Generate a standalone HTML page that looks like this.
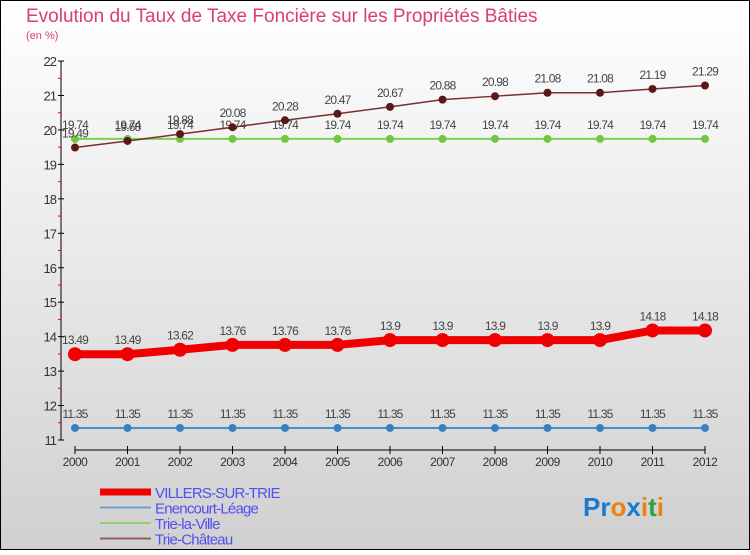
<!DOCTYPE html>
<html><head><meta charset="utf-8"><style>
body{margin:0}
svg text{font-family:"Liberation Sans",sans-serif}
</style></head><body>
<svg width="750" height="550" xmlns="http://www.w3.org/2000/svg">
<defs><linearGradient id="bg" x1="0" y1="0" x2="0" y2="1"><stop offset="0" stop-color="#ffffff"/><stop offset="1" stop-color="#d0d0d0"/></linearGradient></defs>
<rect x="0.5" y="0.5" width="749" height="549" fill="url(#bg)" stroke="#000"/>
<text x="26" y="22" font-size="19" fill="#d9406a">Evolution du Taux de Taxe Foncière sur les Propriétés Bâties</text>
<text x="26" y="39" font-size="11" fill="#d9406a">(en %)</text>
<g id="axes"></g>
<g id="series"></g>
<g id="legend"></g>
<text x="583" y="516" font-size="26" font-weight="bold"><tspan fill="#1a7ad0">Pr</tspan><tspan fill="#f08010">o</tspan><tspan fill="#1a7ad0">x</tspan><tspan fill="#f08010">i</tspan><tspan fill="#30a040">t</tspan><tspan fill="#f08010">i</tspan></text>
</svg>
<script>
const years=[2000,2001,2002,2003,2004,2005,2006,2007,2008,2009,2010,2011,2012];
const villers=[13.49,13.49,13.62,13.76,13.76,13.76,13.9,13.9,13.9,13.9,13.9,14.18,14.18];
const enencourt=[11.35,11.35,11.35,11.35,11.35,11.35,11.35,11.35,11.35,11.35,11.35,11.35,11.35];
const trieVille=[19.74,19.74,19.74,19.74,19.74,19.74,19.74,19.74,19.74,19.74,19.74,19.74,19.74];
const trieChateau=[19.49,19.68,19.88,20.08,20.28,20.47,20.67,20.88,20.98,21.08,21.08,21.19,21.29];
const yTicks=[11,12,13,14,15,16,17,18,19,20,21,22];
const NS="http://www.w3.org/2000/svg";
function X(i){return 75+i*52.5;}
function Y(v){return 440-(v-11)*34.45;}
function mk(t,a,p){const e=document.createElementNS(NS,t);for(const k in a)e.setAttribute(k,a[k]);p.appendChild(e);return e;}
const ax=document.getElementById('axes');
let e=mk('line',{x1:61,y1:61,x2:61,y2:440,stroke:'#000'},ax);

e=mk('line',{x1:75,y1:450,x2:705,y2:450,stroke:'#000'},ax);

yTicks.forEach(v=>{
 mk('line',{x1:58,x2:64,y1:Y(v),y2:Y(v),stroke:'#000'},ax);
 if(v<22)mk('line',{x1:58,x2:61,y1:Y(v+0.5),y2:Y(v+0.5),stroke:'#f00'},ax);
 const t=mk('text',{x:56,y:Y(v)+5,'text-anchor':'end','font-size':13,fill:'#333','letter-spacing':'-1'},ax);
 t.textContent=v;
 
});
years.forEach((y,i)=>{
 mk('line',{x1:X(i),x2:X(i),y1:446,y2:454,stroke:'#000'},ax);
 const t=mk('text',{x:X(i),y:466,'text-anchor':'middle','font-size':12,fill:'#333','letter-spacing':'-0.5'},ax);
 t.textContent=y;
 
});
const sg=document.getElementById('series');
function series(name,vals,color,w,r,dot){
 const g=mk('g',{},sg);
 
 mk('polyline',{points:vals.map((v,i)=>X(i)+','+Y(v)).join(' '),fill:'none',stroke:color,'stroke-width':w},g);
 vals.forEach((v,i)=>{
  const c=mk('circle',{cx:X(i),cy:Y(v),r:r,fill:dot},g);
  
  const t=mk('text',{x:X(i),y:Y(v)-10,'text-anchor':'middle','font-size':12,fill:'#444','letter-spacing':'-0.8'},g);
  t.textContent=v;
  
 });
}
series('series-enencourt',enencourt,'#4a90c8',2,4,'#3a80c0');
series('series-trie-la-ville',trieVille,'#80d050',2,4,'#70c840');
series('series-trie-chateau',trieChateau,'#7a3030',1.5,4,'#5a1818');
series('series-villers',villers,'#f00000',8,7,'#f00000');
const lg=document.getElementById('legend');
[['VILLERS-SUR-TRIE','#f00000',7],['Enencourt-Léage','#6aa0d0',2],['Trie-la-Ville','#90d070',2],['Trie-Château','#906060',2]].forEach((d,i)=>{
 const y=492+i*15.5;
 const g=mk('g',{},lg);
 
 mk('line',{x1:100,x2:151,y1:y,y2:y,stroke:d[1],'stroke-width':d[2]},g);
 const t=mk('text',{x:155,y:y+6,'font-size':15,fill:'#5050f0','letter-spacing':'-0.8'},g);
 t.textContent=d[0];
});
</script>
</body></html>
